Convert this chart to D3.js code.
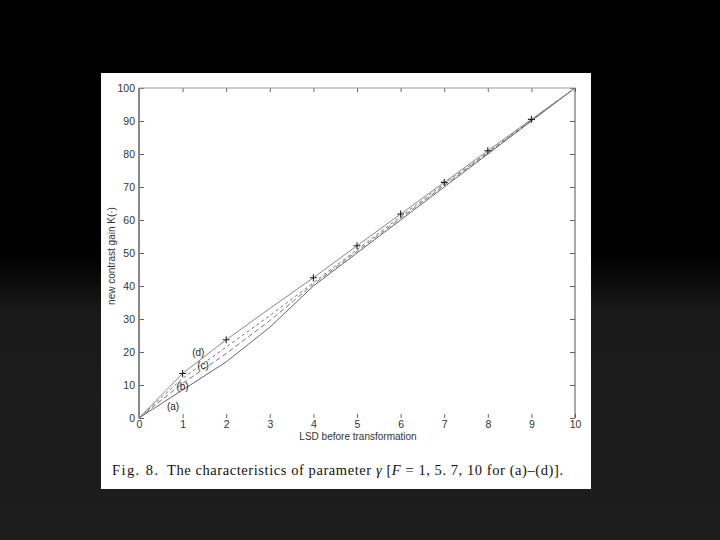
<!DOCTYPE html>
<html><head><meta charset="utf-8">
<script src="https://cdn.jsdelivr.net/npm/d3@7"></script>
<style>html,body{margin:0;padding:0;background:#000;}svg{display:block;}</style>
</head><body>
<script>
// ---- data ----
const xValues = [0,1,2,3,4,5,6,7,8,9,10];
const seriesA = [0,8.5,17,27.5,40,50,60,70,80,90,100];
const seriesB = [0,10.5,19.5,29.5,40.5,50.5,60.5,70.5,80.3,90.2,100];
const seriesC = [0,12,21.5,31,41,51,61,71,80.5,90.3,100];
const seriesD = [0,13.5,23.7,33.2,42.5,52.2,61.8,71.4,81,90.5,100];
const markerX = [1,2,4,5,6,7,8,9];
const seriesNames = ["(a)","(b)","(c)","(d)"];
const labelPos = [[0.78,3.6],[1.0,9.4],[1.47,15.8],[1.36,19.8]];
const xTicks = [0,1,2,3,4,5,6,7,8,9,10];
const yTicks = [0,10,20,30,40,50,60,70,80,90,100];
const xTitle = "LSD before transformation";
const yTitle = "new contrast gain K(·)";

const W=720,H=540;
const svg=d3.select("body").append("svg").attr("width",W).attr("height",H);
const defs=svg.append("defs");
const g=defs.append("linearGradient").attr("id","bg").attr("x1",0).attr("y1",0).attr("x2",0).attr("y2",1);
g.append("stop").attr("offset","0%").attr("stop-color","#000");
g.append("stop").attr("offset","47%").attr("stop-color","#000");
g.append("stop").attr("offset","58%").attr("stop-color","#1a1a1a");
g.append("stop").attr("offset","100%").attr("stop-color","#1d1d1d");
svg.append("rect").attr("width",W).attr("height",H).attr("fill","url(#bg)");

// white paper
svg.append("rect").attr("x",101).attr("y",73).attr("width",490).attr("height",416).attr("fill","#fff");

const x=d3.scaleLinear().domain([0,10]).range([139,575]);
const y=d3.scaleLinear().domain([0,100]).range([418,88]);

const font="Liberation Sans, Arial, sans-serif";
function styleAxis(sel){
  sel.select(".domain").remove();
  sel.selectAll(".tick line").attr("stroke","#666");
  sel.selectAll(".tick text").attr("fill","#333").style("font-family",font).style("font-size","10.5px");
}
svg.append("g").attr("transform",`translate(139,0)`)
  .call(d3.axisLeft(y).tickValues(yTicks).tickSize(-5).tickPadding(4)).call(styleAxis);
svg.append("g").attr("transform",`translate(575,0)`)
  .call(d3.axisRight(y).tickValues(yTicks).tickSize(-5).tickFormat("")).call(styleAxis);
svg.append("g").attr("transform",`translate(0,88)`)
  .call(d3.axisTop(x).tickValues(xTicks).tickSize(-4).tickFormat("")).call(styleAxis);
svg.append("g").attr("transform",`translate(0,418)`)
  .call(d3.axisBottom(x).tickValues(xTicks).tickSize(-4).tickPadding(3)).call(styleAxis);

// frame lines
svg.append("line").attr("x1",139).attr("x2",139).attr("y1",88).attr("y2",418).attr("stroke","#888").attr("stroke-width",2);
svg.append("line").attr("x1",139).attr("x2",575).attr("y1",88).attr("y2",88).attr("stroke","#999").attr("stroke-width",1);
svg.append("line").attr("x1",575).attr("x2",575).attr("y1",88).attr("y2",418).attr("stroke","#555").attr("stroke-width",1);

// curves
const line=d3.line().x(d=>x(d[0])).y(d=>y(d[1]));
const all=[seriesA,seriesB,seriesC,seriesD];
const dashes=[null,"5,3","3,3",null];
const colors=["#666","#777","#777","#888"];
all.forEach((s,i)=>{
  svg.append("path").datum(xValues.map((xv,j)=>[xv,s[j]]))
    .attr("d",line).attr("fill","none").attr("stroke",colors[i]).attr("stroke-width",1)
    .attr("stroke-dasharray",dashes[i]);
});

// + markers on (d)
markerX.forEach(mx=>{
  const v=seriesD[xValues.indexOf(mx)];
  const cx=x(mx), cy=y(v);
  svg.append("path").attr("d",`M${cx-3.5},${cy}H${cx+3.5}M${cx},${cy-3.5}V${cy+3.5}`)
    .attr("stroke","#222").attr("stroke-width",1.1);
});

// series labels
seriesNames.forEach((n,i)=>{
  svg.append("text").attr("x",x(labelPos[i][0])).attr("y",y(labelPos[i][1])).attr("dy","0.35em")
    .attr("text-anchor","middle").style("font-family",font).style("font-size","10px").attr("fill","#222").text(n);
});

// axis titles
svg.append("text").attr("x",358).attr("y",436).attr("dy","0.35em").attr("text-anchor","middle")
  .style("font-family",font).style("font-size","10px").attr("fill","#333").text(xTitle);
svg.append("text").attr("transform","translate(111,256) rotate(-90)").attr("dy","0.35em").attr("text-anchor","middle")
  .style("font-family",font).style("font-size","10px").attr("fill","#333").text(yTitle);

// caption
const serif="Liberation Serif, 'Times New Roman', serif";
const fig=svg.append("text").attr("x",112).attr("y",475).style("font-family",serif)
  .style("font-size","14.5px").attr("fill","#111")
  .attr("textLength",158-112).attr("lengthAdjust","spacing").text("Fig. 8.");
const cap=svg.append("text").attr("x",167).attr("y",475).style("font-family",serif)
  .style("font-size","14.5px").attr("fill","#111")
  .attr("textLength",563-167).attr("lengthAdjust","spacing");
cap.append("tspan").text("The characteristics of parameter ");
cap.append("tspan").style("font-style","italic").text("γ");
cap.append("tspan").text(" [");
cap.append("tspan").style("font-style","italic").text("F");
cap.append("tspan").text(" = 1, 5. 7, 10 for (a)–(d)].");
</script>
</body></html>
